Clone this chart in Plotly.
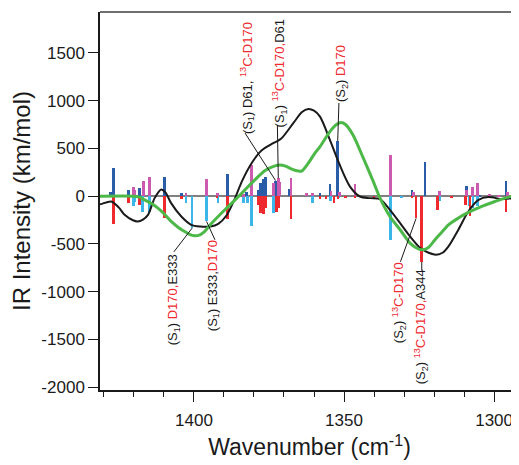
import plotly.graph_objects as go

# ---------------- data ----------------
# stick spectra (wavenumber, intensity)
blue_wn = [1427.7, 1426.9, 1421.8, 1418.2, 1409.9, 1404.1, 1388.8, 1382.4, 1378.6, 1377.8,
           1376.9, 1376.2, 1372.8, 1368.3, 1358.0, 1354.7, 1352.1, 1327.4, 1323.0, 1309.1,
           1304.7, 1296.0, 1293.8]
blue_val = [42, 293, 66, 84, 205, 30, 230, 42, 66, 136,
            178, 199, 163, 73, 38, 125, 578, 66, 362, 101,
            15, 163, 42]

lightblue_wn = [1420.2, 1419.6, 1417.1, 1414.9, 1402.6, 1400.6, 1395.8, 1392.0, 1383.6, 1382.2,
                1380.9, 1373.6, 1360.4, 1354.5, 1351.7, 1334.6, 1330.8, 1318.0, 1308.2, 1307.0,
                1305.6]
lightblue_val = [-108, -60, -171, -161, -70, -335, -265, -73, -73, -73,
                 -311, -178, -73, -52, -24, -457, -24, -52, -108, -126,
                 -108]

pink_wn = [1420.2, 1419.6, 1416.9, 1414.9, 1402.6, 1395.9, 1392.1, 1383.6, 1380.9, 1373.6,
           1371.9, 1371.4, 1367.7, 1362.4, 1360.4, 1354.3, 1351.6, 1346.3, 1334.6, 1326.8,
           1318.2, 1309.1, 1307.1, 1305.6, 1301.5, 1298.5, 1295.5]
pink_val = [100, 60, 163, 199, 35, 178, 38, 20, 327, 136,
            188, 150, 192, 31, 35, 56, 42, 125, 432, 42,
            52, 60, 100, 136, 20, 15, 42]

red_wn = [1426.9, 1421.8, 1418.2, 1409.9, 1404.1, 1392.3, 1388.8, 1378.6, 1377.8, 1376.9,
          1376.2, 1372.6, 1371.7, 1367.7, 1358.0, 1356.0, 1353.3, 1352.0, 1349.5, 1346.3,
          1340.0, 1327.4, 1326.0, 1324.1, 1318.8, 1314.3, 1309.6, 1308.0, 1301.5, 1296.0]
red_val = [-290, -73, -94, -225, -30, -24, -241, -91, -178, -185,
           -126, -171, -126, -237, -31, -31, -73, -31, -20, -20,
           -15, -24, -234, -690, -143, -20, -91, -213, -15, -161]

# broadened spectra
black_wn = [1431.3, 1430.7, 1427.6, 1425.0, 1423.1, 1420.5, 1418.7, 1417.0, 1415.3, 1413.1,
            1410.9, 1409.5, 1407.6, 1404.2, 1400.9, 1398.0, 1394.5, 1391.9, 1389.1, 1386.3,
            1384.1, 1380.8, 1377.4, 1373.6, 1371.0, 1366.9, 1364.0, 1361.9, 1360.0, 1358.0,
            1354.7, 1351.6, 1348.0, 1344.7, 1341.3, 1338.0, 1334.7, 1331.3, 1328.0, 1324.7,
            1322.0, 1319.4, 1317.0, 1315.2, 1311.9, 1308.6, 1305.2, 1301.9, 1297.4, 1294.1,
            1291.7]
black_val = [-85, -81, -56, -120, -196, -250, -265, -245, -196, -21,
             70, 40, -73, -213, -300, -318, -318, -290, -200, -21,
             150, 345, 480, 554, 600, 764, 880, 913, 895, 833,
             589, 340, 100, -4, -21, -31, -143, -282, -422, -540,
             -590, -613, -590, -527, -352, -161, -39, -10, -31, -24,
             -45]

green_wn = [1431.3, 1420.0, 1418.0, 1416.5, 1414.0, 1412.0, 1409.8, 1407.6, 1405.3, 1403.1,
            1401.5, 1399.8, 1398.0, 1396.4, 1394.7, 1393.0, 1389.7, 1386.3, 1383.0, 1379.7,
            1376.3, 1373.0, 1371.3, 1369.5, 1367.4, 1365.2, 1364.0, 1361.9, 1359.7, 1358.0,
            1354.7, 1352.5, 1351.0, 1349.5, 1347.0, 1343.6, 1340.2, 1338.0, 1334.7, 1331.3,
            1328.0, 1326.0, 1324.1, 1322.0, 1319.7, 1317.5, 1315.2, 1311.9, 1308.6, 1304.1,
            1299.7, 1295.2, 1291.7]
green_val = [0, 0, -10, -39, -80, -126, -190, -265, -325, -370,
             -400, -415, -405, -370, -305, -248, -143, -39, 66, 170,
             268, 317, 327, 315, 282, 262, 265, 345, 450, 519,
             676, 750, 770, 750, 640, 400, 150, -21, -213, -352,
             -492, -540, -562, -540, -457, -380, -300, -230, -171, -108,
             -56, -10, 10]

y_ticks = [-2000, -1500, -1000, -500, 0, 500, 1000, 1500]
y_ticktext = ["-2000", "-1500", "-1000", "-500", "0", "500", "1000", "1500"]
x_ticks = [1400, 1350, 1300]
x_ticktext = ["1400", "1350", "1300"]

RED = "#ee2a2f"
BLUE = "#2b5ca8"
LIGHTBLUE = "#3cb6e8"
PINK = "#cc5aae"
GREEN = "#4cb848"

def r(t):
    return f"<span style='color:{RED}'>{t}</span>"

# annotations: (text, text centre x, text centre y, leader start x, y, leader end x, y)
labels = [
    ("(S<sub>1</sub>) D61, " + r("<sup>13</sup>C-D170"), 1382.3, 1237, 1383.0, 661, 1372.8, 163),
    ("(S<sub>1</sub>) " + r("<sup>13</sup>C-D170,") + "D61", 1371.7, 1284, 1372.2, 745, 1371.9, 188),
    ("(S<sub>2</sub>) " + r("D170"), 1350.8, 1284, 1351.7, 975, 1352.1, 578),
    ("(S<sub>1</sub>) " + r("D170,") + "E333", 1406.8, -1085, 1406.7, -584, 1400.6, -335),
    ("(S<sub>1</sub>) E333," + r("D170"), 1393.5, -938, 1393.0, -457, 1395.8, -265),
    ("(S<sub>2</sub>) " + r("<sup>13</sup>C-D170"), 1331.7, -1111, 1331.2, -687, 1326.0, -234),
    ("(S<sub>2</sub>) " + r("<sup>13</sup>C-D170,") + "A344", 1324.3, -1372, 1324.1, -781, 1324.1, -690),
]

# ---------------- figure ----------------
fig = go.Figure()
bw = 0.9
fig.add_trace(go.Bar(x=blue_wn, y=blue_val, width=bw, marker=dict(color=BLUE, line_width=0)))
fig.add_trace(go.Bar(x=lightblue_wn, y=lightblue_val, width=bw, marker=dict(color=LIGHTBLUE, line_width=0)))
fig.add_trace(go.Bar(x=pink_wn, y=pink_val, width=bw, marker=dict(color=PINK, line_width=0)))
fig.add_trace(go.Bar(x=red_wn, y=red_val, width=bw, marker=dict(color=RED, line_width=0)))
fig.add_trace(go.Scatter(x=black_wn, y=black_val, mode="lines",
                         line=dict(color="#1a1a1a", width=2, shape="spline", smoothing=0.8)))
fig.add_trace(go.Scatter(x=green_wn, y=green_val, mode="lines",
                         line=dict(color=GREEN, width=3, shape="spline", smoothing=0.8)))

FONT = "Liberation Sans, Arial, sans-serif"
for text, tx, ty, lx0, ly0, lx1, ly1 in labels:
    fig.add_shape(type="line", x0=lx0, y0=ly0, x1=lx1, y1=ly1, xref="x", yref="y",
                  line=dict(color="#1a1a1a", width=1))
    fig.add_annotation(x=tx, y=ty, xref="x", yref="y", text=text, textangle=-90,
                       showarrow=False, xanchor="center", yanchor="middle",
                       font=dict(family=FONT, size=13, color="#1a1a1a"))

# top frame line
fig.add_shape(type="line", x0=0, x1=1, y0=1, y1=1, xref="paper", yref="paper",
              line=dict(color="#6e6e6e", width=2))

# the page body has an 8 px margin, so the figure is 8 px smaller and offset
fig.update_layout(
    width=511, height=457,
    margin=dict(l=92, r=0, t=4, b=75),
    paper_bgcolor="white", plot_bgcolor="white",
    showlegend=False, barmode="overlay", bargap=0,
    font=dict(family=FONT, color="#1a1a1a"),
    xaxis=dict(range=[1431.3, 1291.7], tickvals=x_ticks, ticktext=x_ticktext,
               ticks="outside", ticklen=10, tickwidth=1, tickcolor="#1a1a1a",
               minor=dict(dtick=10, tick0=1300, ticks="outside", ticklen=5, tickcolor="#1a1a1a"),
               showline=True, linecolor="#1a1a1a", linewidth=1.5, showgrid=False, zeroline=False,
               tickfont=dict(size=17), ticklabelstandoff=4, automargin=False,
               title=dict(text="Wavenumber (cm<sup>-1</sup>)", font=dict(size=23), standoff=10)),
    yaxis=dict(range=[-2030, 1928], tickvals=y_ticks, ticktext=y_ticktext,
               ticks="outside", ticklen=10, tickwidth=1, tickcolor="#1a1a1a",
               showline=True, linecolor="#1a1a1a", linewidth=1.5, showgrid=False,
               zeroline=True, zerolinecolor="#808080", zerolinewidth=2,
               tickfont=dict(size=17), automargin=False,
               title=dict(text="IR Intensity (km/mol)", font=dict(size=24), standoff=6)),
)

fig.write_html("out.html")
